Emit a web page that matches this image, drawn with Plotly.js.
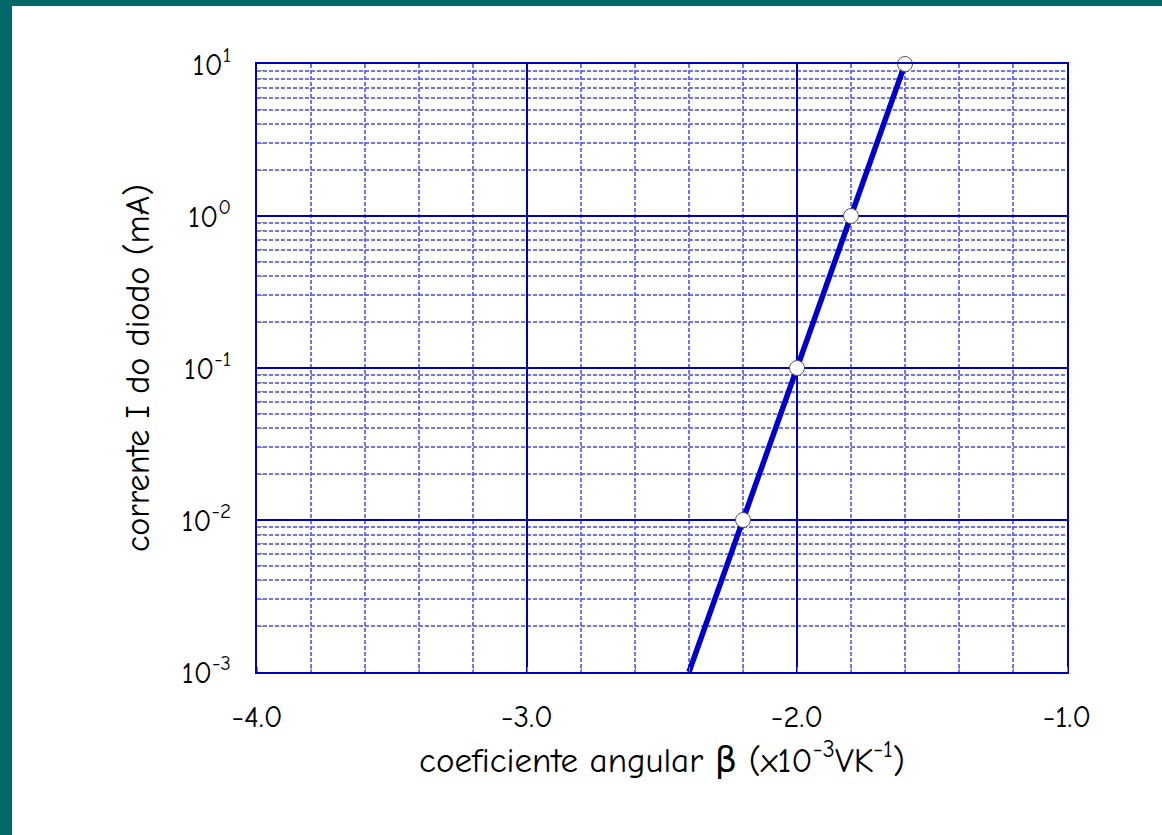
<!DOCTYPE html>
<html>
<head>
<meta charset="utf-8">
<script src="https://cdn.plot.ly/plotly-3.0.1.min.js"></script>
<style>
html,body{margin:0;padding:0;background:#006868;width:1162px;height:835px;overflow:hidden;}
#chart{position:absolute;left:12px;top:6px;width:1150px;height:829px;background:#fff;}
</style>
</head>
<body>
<div id="chart"></div>
<script>
// Data
const betaLine = [-2.4, -2.2, -2.0, -1.8, -1.6];
const currentLine = [0.001, 0.01, 0.1, 1, 10];
const betaPoints = [-2.2, -2.0, -1.8, -1.6];
const currentPoints = [0.01, 0.1, 1, 10];
const xTickVals = [-4, -3, -2, -1];
const xTickText = ['-4.0', '-3.0', '-2.0', '-1.0'];
const yTickVals = [0.001, 0.01, 0.1, 1, 10];
const yTickText = ['10<sup>-3</sup>', '10<sup>-2</sup>', '10<sup>-1</sup>', '10<sup>0</sup>', '10<sup>1</sup>'];

// minor log grid positions (2..9 within each decade)
const yMinor = [];
for (let e = -3; e < 1; e++) for (let m = 2; m <= 9; m++) yMinor.push(m * Math.pow(10, e));

const FONT = '"Comic Sans MS", "Comic Neue", "DejaVu Sans", sans-serif';
const MINORCOL = 'rgba(90,90,235,0.85)';
const traces = [
  {x: betaLine, y: currentLine, mode: 'lines', line: {color: '#0000cc', width: 5.5}, hoverinfo: 'skip', cliponaxis: false},
  {x: betaPoints, y: currentPoints, mode: 'markers', cliponaxis: false,
   marker: {color: '#ffffff', size: 15, line: {color: '#555555', width: 1}}}
];
const layout = {
  width: 1150, height: 829,
  margin: {l: 245, r: 95, t: 58, b: 163},
  paper_bgcolor: '#ffffff', plot_bgcolor: '#ffffff',
  showlegend: false,
  font: {family: FONT, color: '#000', size: 30},
  xaxis: {
    range: [-4, -1], tickvals: xTickVals, ticktext: xTickText,
    tickfont: {size: 31, family: FONT},
    showgrid: true, gridcolor: '#0000bb', gridwidth: 2,
    zeroline: false, showline: true, linecolor: '#0000bb', linewidth: 2, mirror: true,
    ticks: '', ticklabelstandoff: 16,
    minor: {dtick: 0.2, showgrid: true, gridcolor: MINORCOL, gridwidth: 2, griddash: '4px,2px',
            ticks: 'inside', ticklen: 5, tickcolor: '#888', tickwidth: 1},
    title: {text: 'coeficiente angular β (x10<sup>-3</sup>VK<sup>-1</sup>)', font: {size: 35, family: FONT}, standoff: 12}
  },
  yaxis: {
    type: 'log', range: [-3, 1], tickvals: yTickVals, ticktext: yTickText,
    tickfont: {size: 30, family: FONT},
    showgrid: true, gridcolor: '#0000bb', gridwidth: 2,
    zeroline: false, showline: true, linecolor: '#0000bb', linewidth: 2, mirror: true,
    ticks: '', ticklabelstandoff: 18,
    minor: {tickvals: yMinor, showgrid: true, gridcolor: MINORCOL, gridwidth: 2, griddash: '4px,2px',
            ticks: 'inside', ticklen: 6, tickcolor: '#888', tickwidth: 1},
    title: {text: 'corrente I do diodo (mA)', font: {size: 34, family: FONT}, standoff: 22}
  }
};
Plotly.newPlot('chart', traces, layout, {displayModeBar: false, staticPlot: true});
</script>
</body>
</html>
